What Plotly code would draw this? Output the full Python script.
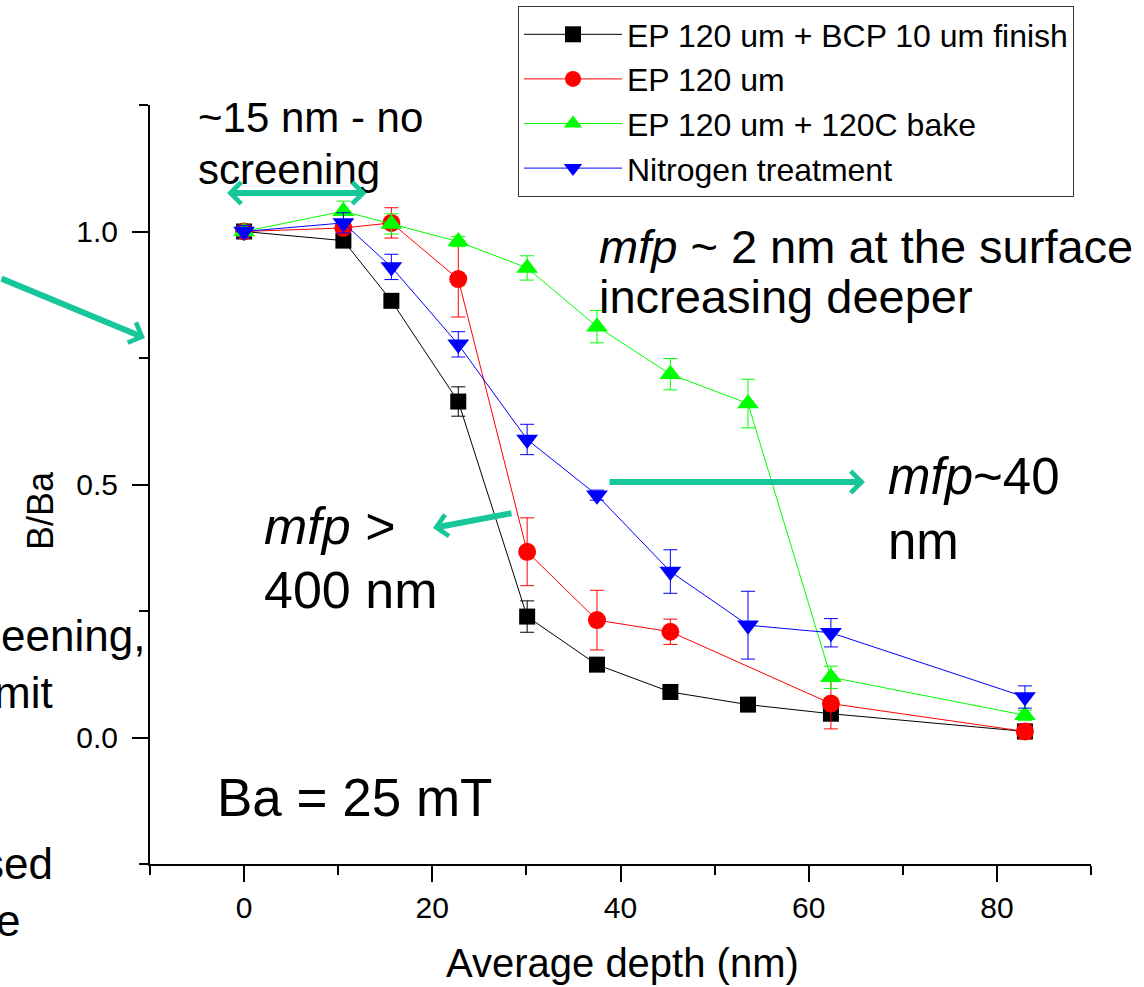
import plotly.graph_objects as go

# ---------------- data ----------------
depth = [0, 10.55, 15.65, 22.76, 30.08, 37.5, 45.3, 53.55, 62.36, 82.98]
depth_red = [0, 10.55, 15.65, 22.76, 30.08, 37.5, 45.3, 62.36, 82.98]

bcp = [1.0, 0.982, 0.863, 0.664, 0.239, 0.144, 0.090, 0.065, 0.047, 0.012]
bcp_err = [0.005, 0.005, 0.005, 0.029, 0.031, 0.005, 0.005, 0.005, 0.005, 0.012]

ep = [1.0, 1.007, 1.017, 0.906, 0.367, 0.232, 0.209, 0.067, 0.012]
ep_err = [0.008, 0.01, 0.03, 0.075, 0.067, 0.059, 0.025, 0.05, 0.015]

bake = [1.0, 1.040, 1.015, 0.980, 0.928, 0.812, 0.718, 0.660, 0.119, 0.044]
bake_err = [0.012, 0.02, 0.02, 0.01, 0.024, 0.032, 0.031, 0.048, 0.022, 0.01]

nitro = [1.0, 1.017, 0.930, 0.777, 0.589, 0.479, 0.328, 0.222, 0.207, 0.080]
nitro_err = [0.012, 0.02, 0.025, 0.025, 0.03, 0.01, 0.043, 0.067, 0.028, 0.022]

names = ["EP 120 um + BCP 10 um finish", "EP 120 um",
         "EP 120 um + 120C bake", "Nitrogen treatment"]

FONT = "Liberation Sans, Arial, sans-serif"
TEAL = "#17c79a"

# plot area in pixels (for placing free text / arrows)
L, R, T, B = 150, 1091, 105, 864
def PX(px):
    return (px - L) / (R - L)
def PY(py):
    return (B - py) / (B - T)

fig = go.Figure()

series = [
    (depth, bcp, bcp_err, "black", "square", 16),
    (depth_red, ep, ep_err, "#ff0000", "circle", 18),
    (depth, bake, bake_err, "#00ff00", "triangle-up", 19),
    (depth, nitro, nitro_err, "#0000ff", "triangle-down", 19),
]
for i, (xs, ys, es, col, sym, sz) in enumerate(series):
    fig.add_trace(go.Scatter(
        x=xs, y=ys, name=names[i], mode="lines+markers",
        legendgroup=f"g{i}",
        line=dict(color=col, width=1),
        marker=dict(color=col, symbol=sym, size=sz, line=dict(width=0)),
        error_y=dict(type="data", array=es, visible=True, color=col,
                     thickness=1, width=7),
        cliponaxis=False,
    ))

ann = []
def text(t, x, y, size, xanchor="left", angle=0):
    ann.append(dict(text=t, x=PX(x), y=PY(y), xref="paper", yref="paper",
                    xanchor=xanchor, yanchor="middle", showarrow=False,
                    textangle=angle,
                    font=dict(family=FONT, size=size, color="black")))

text("~15 nm - no", 196, 118, 42)
text("screening", 196, 169, 42)
text("<i>mfp</i> ~ 2 nm at the surface", 597, 246, 47)
text("increasing deeper", 597, 296, 47)
text("<i>mfp</i> >", 262, 526, 52)
text("400 nm", 262, 590, 52)
text("<i>mfp</i>~40", 886, 476, 51)
text("nm", 886, 541, 51)
text("Ba = 25 mT", 215, 797, 53)
text("eening,", 147, 635, 44, xanchor="right")
text("mit", 55, 692, 44, xanchor="right")
text("sed", 55, 863, 44, xanchor="right")
text("e", 22, 920, 44, xanchor="right")
text("B/Ba", 40, 511, 36, xanchor="center", angle=-90)
text("Average depth (nm)", 622, 963, 40, xanchor="center")

def arrow(x0, y0, x1, y1, both=False):
    # tail (x0,y0) -> head (x1,y1), pixel coordinates
    d = dict(x=PX(x1), y=PY(y1), xref="paper", yref="paper",
             ax=x0 - x1, ay=y0 - y1, axref="pixel", ayref="pixel",
             showarrow=True, arrowhead=4, arrowsize=0.7, arrowwidth=6,
             arrowcolor=TEAL, text="")
    if both:
        d.update(arrowside="end+start", startarrowhead=4, startarrowsize=0.7)
    ann.append(d)

arrow(368, 193, 227, 193, both=True)
arrow(0, 278, 145, 338)
arrow(513, 513, 433, 528)
arrow(608, 482, 865, 482)

fig.update_layout(
    width=1144, height=987,
    margin=dict(l=L, r=1144 - R, t=T, b=987 - B, autoexpand=False),
    paper_bgcolor="white", plot_bgcolor="white",
    font=dict(family=FONT, color="black"),
    annotations=ann,
    showlegend=True,
    legend=dict(x=PX(518), y=PY(6), xanchor="left", yanchor="top",
                bgcolor="white", bordercolor="#333333", borderwidth=1,
                font=dict(family=FONT, size=32, color="black"),
                itemwidth=98, tracegroupgap=0),
)
fig.update_xaxes(range=[-10, 90], showgrid=False, zeroline=False,
                 showline=True, linecolor="black", linewidth=2,
                 ticks="outside", tickcolor="black", tickwidth=2, ticklen=16,
                 tick0=0, dtick=20,
                 minor=dict(dtick=10, tick0=0, ticks="outside", ticklen=9,
                            tickwidth=2, tickcolor="black"),
                 tickfont=dict(family=FONT, size=30, color="black"))
fig.update_yaxes(range=[-0.25, 1.25], showgrid=False, zeroline=False,
                 showline=True, linecolor="black", linewidth=2,
                 ticks="outside", tickcolor="black", tickwidth=2, ticklen=16,
                 tick0=0, dtick=0.5, tickformat=".1f",
                 minor=dict(dtick=0.25, tick0=0, ticks="outside", ticklen=9,
                            tickwidth=2, tickcolor="black"),
                 ticklabelstandoff=8,
                 tickfont=dict(family=FONT, size=30, color="black"))

fig.write_html("out.html")
